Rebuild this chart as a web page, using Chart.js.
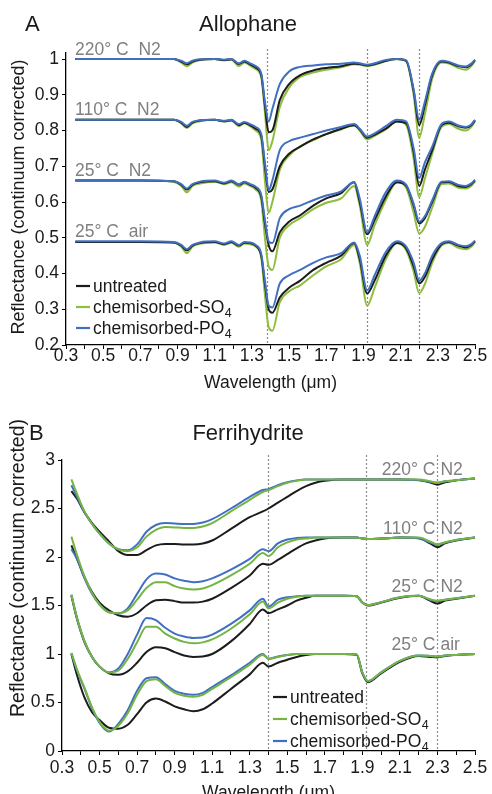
<!DOCTYPE html>
<html>
<head>
<meta charset="utf-8">
<script src="https://cdn.jsdelivr.net/npm/chart.js@4.4.1/dist/chart.umd.min.js"></script>
<style>
  html, body { margin: 0; padding: 0; background: #fff; width: 492px; height: 794px; overflow: hidden; }
  #chartA { position: absolute; left: 0; top: 0; }
  #chartB { position: absolute; left: 0; top: 398px; }
</style>
</head>
<body>
<canvas id="chartA" width="492" height="398"></canvas>
<canvas id="chartB" width="492" height="410"></canvas>
<script>
// --- data: panel A (allophane) ---
const wavelengthA = [0.35, 0.5, 0.7, 0.88, 0.92, 0.95, 0.98, 1.02, 1.1, 1.15, 1.19, 1.23, 1.26, 1.29, 1.32, 1.35, 1.37, 1.39, 1.41, 1.45, 1.5, 1.56, 1.63, 1.7, 1.78, 1.85, 1.88, 1.92, 1.96, 2.02, 2.08, 2.13, 2.17, 2.2, 2.23, 2.27, 2.32, 2.36, 2.41, 2.45, 2.48, 2.5];

const a220Untreated = [1.0, 1.0, 1.0, 1.0, 0.993, 0.985, 0.993, 0.998, 1.0, 0.997, 0.999, 0.986, 0.993, 0.985, 0.976, 0.955, 0.87, 0.795, 0.8, 0.885, 0.93, 0.955, 0.968, 0.975, 0.98, 0.987, 0.986, 0.982, 0.986, 0.995, 1.0, 0.995, 0.91, 0.815, 0.87, 0.955, 0.993, 0.99, 0.98, 0.977, 0.985, 0.997];
const a220SO4 = [1.0, 1.0, 1.0, 1.0, 0.99, 0.98, 0.99, 0.997, 1.0, 0.996, 0.998, 0.98, 0.99, 0.982, 0.972, 0.95, 0.85, 0.745, 0.77, 0.866, 0.92, 0.95, 0.962, 0.97, 0.977, 0.985, 0.984, 0.98, 0.984, 0.994, 1.0, 0.993, 0.9, 0.78, 0.845, 0.945, 0.99, 0.987, 0.975, 0.97, 0.98, 0.995];
const a220PO4 = [1.0, 1.0, 1.0, 1.0, 0.995, 0.988, 0.995, 0.999, 1.0, 0.998, 1.0, 0.988, 0.995, 0.988, 0.98, 0.96, 0.88, 0.825, 0.86, 0.93, 0.965, 0.978, 0.982, 0.985, 0.987, 0.99, 0.988, 0.984, 0.988, 0.997, 1.0, 0.996, 0.915, 0.83, 0.88, 0.96, 0.995, 0.992, 0.982, 0.979, 0.987, 0.998];

const a110Untreated = [0.83, 0.83, 0.83, 0.83, 0.822, 0.81, 0.822, 0.828, 0.83, 0.826, 0.829, 0.815, 0.822, 0.815, 0.805, 0.785, 0.7, 0.628, 0.635, 0.7, 0.735, 0.755, 0.775, 0.79, 0.805, 0.815, 0.803, 0.78, 0.788, 0.805, 0.825, 0.82, 0.74, 0.645, 0.69, 0.745, 0.815, 0.822, 0.812, 0.808, 0.815, 0.828];
const a110SO4 = [0.83, 0.83, 0.83, 0.83, 0.82, 0.807, 0.82, 0.826, 0.83, 0.825, 0.828, 0.812, 0.82, 0.812, 0.8, 0.775, 0.66, 0.57, 0.6, 0.69, 0.73, 0.755, 0.773, 0.79, 0.803, 0.815, 0.8, 0.775, 0.785, 0.803, 0.825, 0.815, 0.72, 0.614, 0.665, 0.735, 0.81, 0.818, 0.805, 0.8, 0.81, 0.826];
const a110PO4 = [0.83, 0.83, 0.83, 0.83, 0.824, 0.813, 0.824, 0.829, 0.83, 0.827, 0.83, 0.818, 0.824, 0.818, 0.81, 0.79, 0.71, 0.633, 0.66, 0.745, 0.77, 0.78, 0.79, 0.8, 0.81, 0.818, 0.805, 0.783, 0.792, 0.812, 0.83, 0.825, 0.75, 0.667, 0.71, 0.755, 0.818, 0.825, 0.814, 0.81, 0.817, 0.83];

const a25N2Untreated = [0.66, 0.66, 0.66, 0.658, 0.648, 0.635, 0.648, 0.655, 0.658, 0.652, 0.658, 0.648, 0.655, 0.648, 0.64, 0.615, 0.54, 0.48, 0.462, 0.515, 0.545, 0.563, 0.59, 0.61, 0.625, 0.655, 0.6, 0.51, 0.55, 0.615, 0.655, 0.645, 0.59, 0.54, 0.555, 0.6, 0.655, 0.656, 0.645, 0.642, 0.65, 0.66];
const a25N2SO4 = [0.66, 0.66, 0.66, 0.656, 0.645, 0.627, 0.645, 0.652, 0.657, 0.65, 0.655, 0.643, 0.652, 0.645, 0.635, 0.605, 0.5, 0.42, 0.41, 0.5, 0.535, 0.555, 0.58, 0.598, 0.61, 0.645, 0.59, 0.48, 0.535, 0.605, 0.655, 0.64, 0.57, 0.512, 0.53, 0.585, 0.65, 0.652, 0.64, 0.638, 0.645, 0.658];
const a25N2PO4 = [0.66, 0.66, 0.66, 0.658, 0.65, 0.638, 0.65, 0.657, 0.66, 0.654, 0.66, 0.65, 0.657, 0.65, 0.643, 0.62, 0.55, 0.49, 0.485, 0.555, 0.58, 0.59, 0.605, 0.618, 0.63, 0.656, 0.61, 0.515, 0.56, 0.627, 0.66, 0.648, 0.595, 0.545, 0.56, 0.605, 0.657, 0.658, 0.648, 0.645, 0.652, 0.662];

const a25AirUntreated = [0.488, 0.488, 0.488, 0.487, 0.478, 0.465, 0.478, 0.485, 0.488, 0.482, 0.488, 0.478, 0.486, 0.485, 0.478, 0.45, 0.37, 0.3, 0.29, 0.333, 0.36, 0.38, 0.41, 0.43, 0.45, 0.485, 0.44, 0.344, 0.38, 0.45, 0.485, 0.47, 0.42, 0.372, 0.39, 0.44, 0.482, 0.488, 0.478, 0.473, 0.48, 0.49];
const a25AirSO4 = [0.488, 0.488, 0.488, 0.486, 0.475, 0.457, 0.475, 0.483, 0.487, 0.48, 0.486, 0.475, 0.484, 0.482, 0.475, 0.445, 0.34, 0.25, 0.24, 0.32, 0.35, 0.367, 0.395, 0.42, 0.44, 0.48, 0.43, 0.31, 0.36, 0.44, 0.485, 0.465, 0.405, 0.345, 0.37, 0.43, 0.478, 0.485, 0.472, 0.468, 0.475, 0.488];
const a25AirPO4 = [0.49, 0.49, 0.49, 0.488, 0.48, 0.468, 0.48, 0.487, 0.49, 0.484, 0.49, 0.48, 0.488, 0.487, 0.48, 0.455, 0.38, 0.31, 0.305, 0.372, 0.395, 0.41, 0.43, 0.445, 0.457, 0.487, 0.45, 0.353, 0.395, 0.46, 0.49, 0.475, 0.43, 0.38, 0.4, 0.45, 0.485, 0.49, 0.48, 0.476, 0.482, 0.492];

// --- data: panel B (ferrihydrite) ---
const wavelengthB = [0.35, 0.38, 0.42, 0.46, 0.5, 0.55, 0.6, 0.65, 0.7, 0.75, 0.8, 0.85, 0.9, 0.95, 1.0, 1.05, 1.1, 1.2, 1.3, 1.37, 1.4, 1.45, 1.5, 1.55, 1.6, 1.65, 1.7, 1.8, 1.87, 1.9, 1.93, 2.0, 2.1, 2.2, 2.26, 2.3, 2.34, 2.4, 2.5];

const b220Untreated = [2.68, 2.6, 2.46, 2.35, 2.26, 2.16, 2.06, 2.02, 2.02, 2.07, 2.12, 2.135, 2.135, 2.13, 2.13, 2.14, 2.17, 2.29, 2.41, 2.47, 2.5, 2.56, 2.62, 2.68, 2.73, 2.765, 2.785, 2.8, 2.8, 2.8, 2.8, 2.8, 2.8, 2.795, 2.77, 2.745, 2.77, 2.79, 2.81];
const b220SO4 = [2.8, 2.65, 2.47, 2.34, 2.24, 2.14, 2.08, 2.06, 2.1, 2.21, 2.28, 2.31, 2.305, 2.3, 2.3, 2.315, 2.35, 2.47, 2.59, 2.67, 2.69, 2.73, 2.765, 2.785, 2.8, 2.8, 2.8, 2.8, 2.8, 2.8, 2.8, 2.8, 2.8, 2.8, 2.78, 2.765, 2.78, 2.79, 2.81];
const b220PO4 = [2.74, 2.62, 2.46, 2.34, 2.24, 2.14, 2.08, 2.07, 2.13, 2.26, 2.33, 2.35, 2.345, 2.34, 2.34, 2.355, 2.39, 2.5, 2.62, 2.69, 2.7, 2.74, 2.77, 2.79, 2.8, 2.8, 2.8, 2.8, 2.8, 2.8, 2.8, 2.8, 2.8, 2.79, 2.775, 2.765, 2.78, 2.79, 2.81];

const b110Untreated = [2.12, 1.98, 1.79, 1.64, 1.53, 1.45, 1.4, 1.385, 1.42, 1.5, 1.555, 1.56, 1.545, 1.53, 1.53, 1.54, 1.57, 1.68, 1.81, 1.93, 1.92, 1.97, 2.03, 2.09, 2.14, 2.17, 2.19, 2.2, 2.2, 2.19, 2.185, 2.19, 2.2, 2.195, 2.14, 2.1, 2.14, 2.17, 2.2];
const b110SO4 = [2.21, 2.02, 1.8, 1.63, 1.51, 1.43, 1.42, 1.45, 1.56, 1.68, 1.74, 1.74, 1.7, 1.675, 1.665, 1.675, 1.71, 1.81, 1.93, 2.04, 2.01, 2.1, 2.15, 2.18, 2.19, 2.2, 2.2, 2.2, 2.2, 2.19, 2.185, 2.19, 2.2, 2.2, 2.16, 2.13, 2.15, 2.175, 2.2];
const b110PO4 = [2.08, 1.98, 1.78, 1.62, 1.51, 1.43, 1.42, 1.47, 1.62, 1.77, 1.83, 1.82, 1.78, 1.755, 1.74, 1.75, 1.78, 1.87, 1.98, 2.08, 2.06, 2.14, 2.18, 2.195, 2.2, 2.2, 2.2, 2.2, 2.2, 2.19, 2.185, 2.19, 2.2, 2.19, 2.15, 2.125, 2.15, 2.175, 2.2];

const b25N2Untreated = [1.6, 1.36, 1.12, 0.97, 0.87, 0.8, 0.785, 0.82, 0.91, 1.02, 1.07, 1.06, 1.02, 0.985, 0.97, 0.975, 1.0, 1.13, 1.31, 1.46, 1.42, 1.46, 1.5, 1.55, 1.58, 1.6, 1.6, 1.6, 1.595, 1.53, 1.5, 1.53, 1.58, 1.6, 1.55, 1.52, 1.55, 1.57, 1.6];
const b25N2SO4 = [1.61, 1.37, 1.13, 0.97, 0.87, 0.81, 0.83, 0.95, 1.12, 1.28, 1.28, 1.21, 1.16, 1.125, 1.11, 1.12, 1.15, 1.26, 1.41, 1.54, 1.47, 1.53, 1.57, 1.59, 1.6, 1.6, 1.6, 1.6, 1.595, 1.53, 1.505, 1.535, 1.585, 1.6, 1.565, 1.55, 1.56, 1.575, 1.6];
const b25N2PO4 = [1.61, 1.37, 1.13, 0.97, 0.87, 0.81, 0.85, 1.0, 1.2, 1.37, 1.35, 1.27, 1.21, 1.18, 1.165, 1.17, 1.2, 1.31, 1.45, 1.57, 1.49, 1.56, 1.585, 1.595, 1.6, 1.6, 1.6, 1.6, 1.595, 1.53, 1.505, 1.535, 1.585, 1.6, 1.56, 1.545, 1.56, 1.575, 1.6];

const b25AirUntreated = [1.0, 0.78, 0.55, 0.4, 0.32, 0.24, 0.23, 0.27, 0.38, 0.5, 0.54, 0.51, 0.46, 0.43, 0.41, 0.43, 0.49, 0.64, 0.79, 0.91, 0.87, 0.91, 0.94, 0.97, 0.99, 1.0, 1.0, 1.0, 0.99, 0.8, 0.71, 0.8, 0.92, 0.98, 0.97, 0.965, 0.98, 0.99, 1.0];
const b25AirSO4 = [1.01, 0.84, 0.65, 0.45, 0.3, 0.21, 0.26, 0.39, 0.58, 0.72, 0.74, 0.67, 0.6, 0.57, 0.56, 0.58, 0.64, 0.76, 0.89, 0.99, 0.95, 0.97, 0.99, 1.0, 1.0, 1.0, 1.0, 1.0, 0.995, 0.81, 0.72, 0.81, 0.93, 0.985, 0.98, 0.975, 0.985, 0.99, 1.0];
const b25AirPO4 = [1.01, 0.83, 0.64, 0.44, 0.29, 0.2, 0.28, 0.42, 0.62, 0.75, 0.76, 0.69, 0.62, 0.59, 0.58, 0.6, 0.66, 0.78, 0.91, 1.0, 0.95, 0.975, 0.99, 1.0, 1.0, 1.0, 1.0, 1.0, 0.995, 0.81, 0.72, 0.81, 0.93, 0.985, 0.98, 0.975, 0.985, 0.99, 1.0];

// labels
const conditionsA = ["220° C  N2", "110° C  N2", "25° C  N2", "25° C  air"];
const levelsA = [1.0, 0.83, 0.66, 0.49];
const tempsB = ["220° C", "110° C", "25° C", "25° C"];
const gasB = ["N2", "N2", "N2", "air"];
const levelsB = [2.8, 2.2, 1.6, 1.0];
const featuresA = [1.38, 1.92, 2.2];
const featuresB = [1.4, 1.92, 2.3];
const treatments = [
  { text: "untreated", sub: "" },
  { text: "chemisorbed-SO", sub: "4" },
  { text: "chemisorbed-PO", sub: "4" },
];

const FONT = "'Liberation Sans', Arial, Helvetica, sans-serif";
const INK = "#1a1a1a";
const GRAY = "#808080";
const BLACK = "#1c1c1c";
const BLUE = "#4170c2";

//折れ線1本分
function series(xs, ys, color, order) {
  return {
    data: xs.map((x, i) => ({ x: x, y: ys[i] })),
    borderColor: color,
    borderWidth: 2,
    pointRadius: 0,
    fill: false,
    clip: false,
    cubicInterpolationMode: "monotone",
    order: order,
  };
}

//装飾(タイトル、点線、ラベル、凡例)
function decorPlugin(cfg) {
  return {
    id: "decor",
    beforeDatasetsDraw(chart) {
      const { ctx, chartArea, scales: { x } } = chart;
      ctx.save();
      ctx.strokeStyle = "#8c8c8c";
      ctx.lineWidth = 1.2;
      ctx.setLineDash([2, 2]);
      cfg.marks.forEach((w) => {
        const px = Math.round(x.getPixelForValue(w)) + 0.5;
        ctx.beginPath();
        ctx.moveTo(px, chartArea.top - cfg.markOver);
        ctx.lineTo(px, chartArea.bottom);
        ctx.stroke();
      });
      ctx.restore();
    },
    afterDraw(chart) {
      const { ctx, scales: { x, y } } = chart;
      ctx.save();
      ctx.fillStyle = INK;
      ctx.textBaseline = "alphabetic";

      // panel letter and title
      ctx.font = `22px ${FONT}`;
      ctx.textAlign = "left";
      ctx.fillText(cfg.letter, cfg.letterX, cfg.titleY);
      ctx.textAlign = "center";
      ctx.fillText(cfg.title, 248, cfg.titleY);

      // y title
      ctx.save();
      ctx.translate(19, cfg.yTitleY);
      ctx.rotate(-Math.PI / 2);
      ctx.font = `${cfg.yTitleSize}px ${FONT}`;
      ctx.textAlign = "center";
      ctx.textBaseline = "middle";
      ctx.fillText("Reflectance (continuum corrected)", 0, 0);
      ctx.restore();

      // condition labels
      ctx.fillStyle = GRAY;
      ctx.font = `17.5px ${FONT}`;
      cfg.labels(ctx, x, y);

      // legend
      treatments.forEach((item, i) => {
        const yy = cfg.legendY + i * cfg.legendGap;
        ctx.strokeStyle = cfg.colors[i];
        ctx.lineWidth = 2.2;
        ctx.beginPath();
        ctx.moveTo(cfg.legendX, yy);
        ctx.lineTo(cfg.legendX + 14, yy);
        ctx.stroke();
        ctx.fillStyle = INK;
        ctx.font = `17.5px ${FONT}`;
        ctx.textAlign = "left";
        ctx.textBaseline = "middle";
        ctx.fillText(item.text, cfg.legendX + 17, yy + 1);
        if (item.sub) {
          const w = ctx.measureText(item.text).width;
          ctx.font = `12.5px ${FONT}`;
          ctx.fillText(item.sub, cfg.legendX + 17 + w + 0.5, yy + 7);
        }
      });
      ctx.restore();
    },
  };
}

function axisOptions(yMin, yMax, yStep, xPad, yWidth, xHeight) {
  const tickFont = { family: FONT, size: 17.5 };
  return {
    x: {
      type: "linear",
      min: 0.3,
      max: 2.5,
      border: { color: "#000", width: 1.3 },
      grid: { drawOnChartArea: false, drawTicks: true, tickLength: 4, color: "#000", lineWidth: 1 },
      ticks: {
        stepSize: 0.1,
        autoSkip: false,
        maxRotation: 0,
        padding: xPad,
        color: INK,
        font: tickFont,
        callback: (v) => (Math.round(v * 10) % 2 === 1 ? (Math.round(v * 10) / 10).toFixed(1) : ""),
      },
      title: {
        display: true,
        text: "Wavelength (μm)",
        color: INK,
        font: { family: FONT, size: 17.5 },
        padding: { top: 0, bottom: 4.5 },
      },
      afterFit: (s) => { s.height = xHeight; },
    },
    y: {
      min: yMin,
      max: yMax,
      border: { color: "#000", width: 1.3 },
      grid: { drawOnChartArea: false, drawTicks: true, tickLength: 4, color: "#000", lineWidth: 1 },
      ticks: {
        stepSize: yStep,
        includeBounds: false,
        padding: 3,
        color: INK,
        font: tickFont,
        callback: (v) => String(Number(v.toFixed(2))),
      },
      afterFit: (s) => { s.width = yWidth; },
    },
  };
}

//パネルA
const greenA = "#8fbd3d";
new Chart(document.getElementById("chartA").getContext("2d"), {
  type: "line",
  data: {
    datasets: [
      series(wavelengthA, a220PO4, BLUE, 0), series(wavelengthA, a220Untreated, BLACK, 1), series(wavelengthA, a220SO4, greenA, 2),
      series(wavelengthA, a110PO4, BLUE, 0), series(wavelengthA, a110Untreated, BLACK, 1), series(wavelengthA, a110SO4, greenA, 2),
      series(wavelengthA, a25N2PO4, BLUE, 0), series(wavelengthA, a25N2Untreated, BLACK, 1), series(wavelengthA, a25N2SO4, greenA, 2),
      series(wavelengthA, a25AirPO4, BLUE, 0), series(wavelengthA, a25AirUntreated, BLACK, 1), series(wavelengthA, a25AirSO4, greenA, 2),
    ],
  },
  options: {
    responsive: false,
    animation: false,
    layout: { padding: { top: 53, right: 17, left: 0, bottom: 0 } },
    plugins: { legend: { display: false }, tooltip: { enabled: false } },
    scales: axisOptions(0.2, 1.0168, 0.1, -3, 66, 53),
  },
  plugins: [decorPlugin({
    letter: "A",
    letterX: 25,
    title: "Allophane",
    titleY: 31,
    yTitleY: 197,
    yTitleSize: 18,
    marks: featuresA,
    markOver: 4,
    colors: [BLACK, greenA, BLUE],
    legendX: 76,
    legendY: 286,
    legendGap: 21,
    labels(ctx, x, y) {
      ctx.textAlign = "left";
      conditionsA.forEach((t, i) => ctx.fillText(t, 75, y.getPixelForValue(levelsA[i]) - 4.5));
    },
  })],
});

//パネルB
const greenB = "#74b443";
new Chart(document.getElementById("chartB").getContext("2d"), {
  type: "line",
  data: {
    datasets: [
      series(wavelengthB, b220SO4, greenB, 0), series(wavelengthB, b220PO4, BLUE, 1), series(wavelengthB, b220Untreated, BLACK, 2),
      series(wavelengthB, b110SO4, greenB, 0), series(wavelengthB, b110PO4, BLUE, 1), series(wavelengthB, b110Untreated, BLACK, 2),
      series(wavelengthB, b25N2SO4, greenB, 0), series(wavelengthB, b25N2PO4, BLUE, 1), series(wavelengthB, b25N2Untreated, BLACK, 2),
      series(wavelengthB, b25AirSO4, greenB, 0), series(wavelengthB, b25AirPO4, BLUE, 1), series(wavelengthB, b25AirUntreated, BLACK, 2),
    ],
  },
  options: {
    responsive: false,
    animation: false,
    layout: { padding: { top: 62, right: 17, left: 0, bottom: 0 } },
    plugins: { legend: { display: false }, tooltip: { enabled: false } },
    scales: axisOptions(0, 3, 0.5, 3, 62, 57),
  },
  plugins: [decorPlugin({
    letter: "B",
    letterX: 29,
    title: "Ferrihydrite",
    titleY: 42,
    yTitleY: 170,
    yTitleSize: 19.5,
    marks: featuresB,
    markOver: 5,
    colors: [BLACK, greenB, BLUE],
    legendX: 273,
    legendY: 299,
    legendGap: 22,
    labels(ctx, x, y) {
      const split = x.getPixelForValue(2.3);
      tempsB.forEach((t, i) => {
        const yy = y.getPixelForValue(levelsB[i]) - 4;
        ctx.textAlign = "right";
        ctx.fillText(t, split - 2, yy);
        ctx.textAlign = "left";
        ctx.fillText(gasB[i], split + 3, yy);
      });
    },
  })],
});
</script>
</body>
</html>
